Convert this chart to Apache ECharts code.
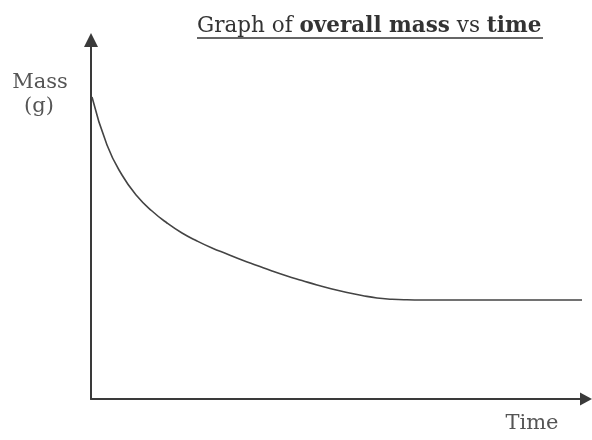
<!DOCTYPE html>
<html><head><meta charset="utf-8">
<script src="https://cdn.jsdelivr.net/npm/echarts@6/dist/echarts.min.js"></script>
<style>html,body{margin:0;padding:0;background:#fff}#c{width:592px;height:440px}</style>
</head><body><div id="c"></div>
<script>
// Time (arbitrary units) and overall mass (arbitrary units)
const timeValues = [1, 16, 31, 46, 61, 76, 91, 106, 121, 136, 151, 166, 181, 196, 211, 226, 241, 256, 271, 286, 301, 316, 331, 491];
const massValues = [302, 254, 224, 203, 188, 176, 166, 158, 151, 145, 139, 133.5, 128, 123, 118.5, 114, 110, 106.5, 103.5, 101, 99.8, 99.2, 99, 99];
const xAxisLabel = 'Time';
const yAxisLabel = ['Mass', '(g)'];

const chart = echarts.init(document.getElementById('c'));
const serif = 'DejaVu Serif';
chart.setOption({
  animation: false,
  backgroundColor: '#fff',
  grid: { left: 91, right: 6, top: 40, bottom: 41, containLabel: false },
  xAxis: {
    type: 'value', min: 0, max: 495,
    axisLine: { onZero: false, symbol: ['none', 'triangle'], symbolSize: [13, 12], lineStyle: { color: '#3a3a3a', width: 2 } },
    axisTick: { show: false }, axisLabel: { show: false }, splitLine: { show: false }
  },
  yAxis: {
    type: 'value', min: 0, max: 359,
    axisLine: { show: true, onZero: false, symbol: ['none', 'triangle'], symbolSize: [14, 14], lineStyle: { color: '#3a3a3a', width: 2 } },
    axisTick: { show: false }, axisLabel: { show: false }, splitLine: { show: false }
  },
  series: [{
    type: 'line', smooth: 0.5, showSymbol: false,
    data: timeValues.map((t, i) => [t, massValues[i]]),
    lineStyle: { color: '#444', width: 1.6 }
  }],
  graphic: [
    { type: 'text', left: 197, top: 15, style: {
      text: '{n|Graph of }{b|overall mass}{n| vs }{b|time}',
      rich: {
        n: { fontFamily: serif, fontSize: 21.5, fill: '#333' },
        b: { fontFamily: serif, fontSize: 21.5, fontWeight: 'bold', fill: '#333' }
      } } },
    { type: 'line', shape: { x1: 197, y1: 38, x2: 543, y2: 38 }, style: { stroke: '#333', lineWidth: 1.5 } },
    { type: 'text', x: 40, y: 83, style: { text: yAxisLabel[0], fontFamily: serif, fontSize: 21, fill: '#555', align: 'center', verticalAlign: 'middle' } },
    { type: 'text', x: 39, y: 107, style: { text: yAxisLabel[1], fontFamily: serif, fontSize: 21, fill: '#555', align: 'center', verticalAlign: 'middle' } },
    { type: 'text', x: 532, y: 424, style: { text: xAxisLabel, fontFamily: serif, fontSize: 21, fill: '#555', align: 'center', verticalAlign: 'middle' } }
  ]
});
</script></body></html>
